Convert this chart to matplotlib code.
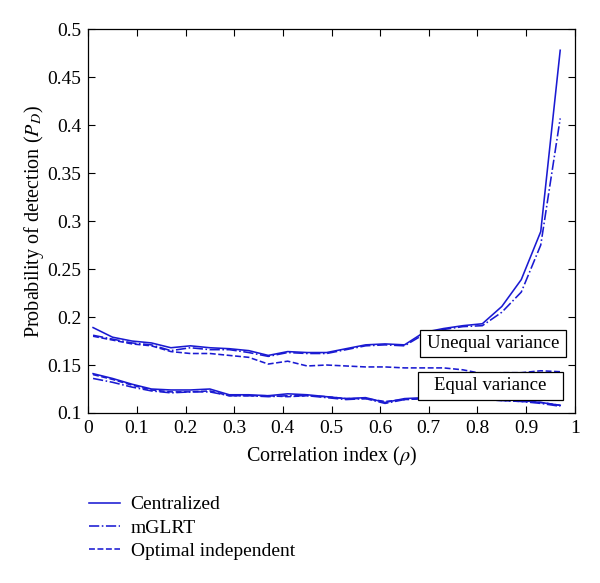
import numpy as np
import matplotlib
matplotlib.use("Agg")
import matplotlib.pyplot as plt
from matplotlib.patches import Rectangle

plt.rcParams['font.family'] = ['Liberation Serif', 'DejaVu Serif']
plt.rcParams['mathtext.fontset'] = 'stix'

# correlation index samples
rho = [0.01, 0.05, 0.09, 0.13, 0.17, 0.21, 0.25, 0.29, 0.33, 0.37, 0.41, 0.45, 0.49,
       0.53, 0.57, 0.61, 0.65, 0.69, 0.73, 0.77, 0.81, 0.85, 0.89, 0.93, 0.97]

# unequal variance
cent_uneq = [0.189, 0.179, 0.175, 0.173, 0.168, 0.170, 0.168, 0.167, 0.165, 0.160, 0.164, 0.163, 0.163,
             0.167, 0.171, 0.172, 0.171, 0.184, 0.188, 0.191, 0.193, 0.211, 0.239, 0.289, 0.478]
mglrt_uneq = [0.181, 0.177, 0.173, 0.171, 0.165, 0.168, 0.166, 0.166, 0.163, 0.159, 0.163, 0.162, 0.162,
              0.166, 0.170, 0.171, 0.170, 0.182, 0.187, 0.190, 0.191, 0.205, 0.226, 0.275, 0.407]
opt_uneq = [0.180, 0.176, 0.172, 0.170, 0.164, 0.162, 0.162, 0.160, 0.158, 0.151, 0.154, 0.149, 0.150,
            0.149, 0.148, 0.148, 0.147, 0.147, 0.147, 0.145, 0.141, 0.142, 0.142, 0.144, 0.143]

# equal variance
cent_eq = [0.141, 0.136, 0.130, 0.125, 0.124, 0.124, 0.125, 0.119, 0.119, 0.118, 0.120, 0.119, 0.117,
           0.115, 0.116, 0.111, 0.115, 0.116, 0.116, 0.115, 0.115, 0.114, 0.113, 0.111, 0.108]
mglrt_eq = [0.136, 0.132, 0.127, 0.123, 0.121, 0.122, 0.122, 0.118, 0.118, 0.117, 0.118, 0.118, 0.116,
            0.114, 0.115, 0.110, 0.114, 0.115, 0.115, 0.114, 0.114, 0.113, 0.112, 0.110, 0.107]
opt_eq = [0.140, 0.135, 0.129, 0.124, 0.122, 0.122, 0.123, 0.118, 0.118, 0.118, 0.117, 0.118, 0.117,
          0.115, 0.115, 0.112, 0.114, 0.115, 0.115, 0.115, 0.114, 0.113, 0.112, 0.111, 0.108]

col = '#1a1ad2'
lw = 1.15

fig = plt.figure(figsize=(6.0, 5.83), dpi=100)
ax = fig.add_axes([0.147, 0.2916, 0.811, 0.6584])

ax.plot(rho, cent_uneq, '-', color=col, lw=lw, label='Centralized')
ax.plot(rho, mglrt_uneq, '-.', color=col, lw=lw, label='mGLRT')
ax.plot(rho, opt_uneq, '--', color=col, lw=lw, label='Optimal independent')
ax.plot(rho, cent_eq, '-', color=col, lw=lw)
ax.plot(rho, mglrt_eq, '-.', color=col, lw=lw)
ax.plot(rho, opt_eq, '--', color=col, lw=lw)

# labelled boxes
for (x0, y0, w, h, txt) in [(0.682, 0.158, 0.300, 0.028, 'Unequal variance'),
                            (0.678, 0.1135, 0.297, 0.0295, 'Equal variance')]:
    ax.add_patch(Rectangle((x0, y0), w, h, facecolor='white', edgecolor='black', lw=0.9, zorder=5))
    ax.text(x0 + w / 2, y0 + h / 2, txt, ha='center', va='center', fontsize=13.5, zorder=6)

ax.set_xlim(0, 1)
ax.set_ylim(0.1, 0.5)
ax.set_xticks(np.arange(0, 1.01, 0.1))
ax.set_xticklabels(['0', '0.1', '0.2', '0.3', '0.4', '0.5', '0.6', '0.7', '0.8', '0.9', '1'])
ax.set_yticks(np.arange(0.1, 0.501, 0.05))
ax.set_yticklabels(['0.1', '0.15', '0.2', '0.25', '0.3', '0.35', '0.4', '0.45', '0.5'])
ax.tick_params(direction='in', top=True, right=True, labelsize=14, length=5, width=0.8, pad=5)
for s in ax.spines.values():
    s.set_linewidth(0.9)

ax.set_xlabel(r'Correlation index ($\rho$)', fontsize=14.5, labelpad=6)
ax.set_ylabel(r'Probability of detection ($P_D$)', fontsize=14.5, labelpad=1)

fig.legend(loc='upper left', bbox_to_anchor=(0.135, 0.163), frameon=False, fontsize=14,
           handlelength=1.6, handletextpad=0.55, labelspacing=0.3, borderaxespad=0)

fig.savefig('out.png', dpi=100)
